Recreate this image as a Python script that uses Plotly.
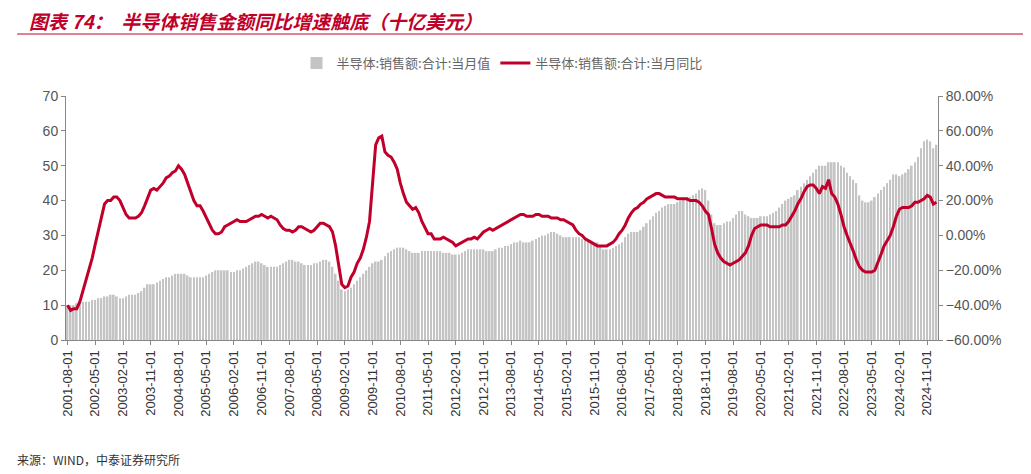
import plotly.graph_objects as go
import pandas as pd

# monthly sales, billion USD (2001-08 .. 2025-02)
sales = [10, 10, 10, 10.5, 11,
         11, 11, 11, 11.5, 11.5, 12, 12, 12.5, 12.5, 13, 13, 12.5,
         12, 12, 12.5, 13, 13, 13, 13.5, 14, 15, 16, 16, 16,
         16.5, 17, 17.5, 18, 18, 18.5, 19, 19, 19, 19, 18.5, 18,
         18, 18, 18, 18, 18.5, 19, 19.5, 20, 20, 20, 20, 20,
         19.5, 19.5, 20, 20, 20.5, 21, 21.5, 22, 22.5, 22.5, 22, 21.5,
         21, 21, 21, 21, 21.5, 22, 22.5, 23, 23, 22.5, 22.5, 22,
         21.5, 21.5, 21.5, 22, 22, 22.5, 23, 23, 22.5, 21, 19, 17,
         14.5, 14, 14.5, 15, 16, 17, 18, 19, 20, 21, 22, 22.5,
         22.5, 23, 24, 25, 25.5, 26, 26.5, 26.5, 26.5, 26, 25.5, 25,
         25, 25, 25.5, 25.5, 25.5, 25.5, 25.5, 25.5, 25.5, 25, 25, 25,
         24.5, 24.5, 24.5, 25, 25.5, 26, 26, 26, 26, 26, 26, 25.5,
         25.5, 25.5, 26, 26.5, 26.5, 27, 27, 27.5, 28, 28, 28.5, 28,
         28, 28, 28.5, 29, 29.5, 30, 30, 30.5, 31, 31, 30.5, 30,
         29.5, 29.5, 29.5, 29.5, 29.5, 29.5, 29, 29, 29, 28.5, 28, 28,
         27, 26, 26, 26, 26.5, 27, 27.5, 28, 29.5, 30.5, 31, 31,
         31, 31.5, 32.5, 33.5, 34.5, 35.5, 36.5, 37, 38, 38.5, 39, 39,
         39, 39.5, 40, 40.5, 41, 41, 41.5, 42, 43, 43.5, 43, 40,
         36, 33.5, 33, 33, 33.5, 34, 34, 35, 36, 37, 37, 36,
         35.5, 35, 35, 35, 35.5, 35.5, 35.5, 36, 36.5, 37, 38, 39,
         40, 40.5, 41, 41.5, 43, 44, 45, 46, 47, 48, 49, 50,
         50, 50, 51, 51, 51, 51, 50, 49.5, 48, 47, 46, 45,
         41.5, 40, 39.5, 39.5, 40, 41, 42, 43, 44, 45, 46, 47.5,
         47.5, 47, 47.5, 48, 49, 50, 51, 52.5, 55, 57, 57.5, 57,
         55, 56]

# year-on-year growth, %
yoy = [-40, -43, -42, -42, -38,
       -32, -25, -20, -13, -5, 3, 10, 18, 20, 20, 22, 22,
       20, 16, 12, 10, 10, 10, 11, 13, 17, 22, 26, 27,
       26, 28, 30, 33, 34, 36, 37, 40, 38, 35, 30, 24,
       20, 17, 17, 14, 10, 6, 3, 1, 1, 2, 5, 6,
       7, 8, 9, 8, 8, 8, 9, 10, 11, 11, 12, 11,
       10, 11, 10, 9, 6, 4, 3, 3, 2, 3, 5, 5,
       4, 3, 2, 3, 5, 7, 7, 6, 5, 2, -6, -17,
       -28, -30, -29, -24, -21, -16, -13, -8, -1, 8, 32, 52,
       56, 57, 48, 46, 45, 42, 38, 30, 24, 19, 17, 15,
       16, 13, 8, 4, 1, 1, -2, -2, -2, -1, -2, -3,
       -4, -6, -5, -4, -3, -2, -2, -1, -2, 0, 2, 3,
       4, 3, 4, 5, 6, 7, 8, 9, 10, 11, 12, 12,
       11, 11, 11, 12, 12, 11, 11, 11, 10, 10, 10, 9,
       9, 8, 7, 6, 3, 1, 0, -2, -3, -4, -5, -6,
       -6, -6, -6, -5, -4, -2, 1, 3, 6, 10, 13, 15,
       16, 18, 19, 21, 22, 23, 24, 24, 23, 22, 22, 22,
       22, 21, 21, 21, 21, 20, 20, 20, 19, 17, 14, 12,
       4, -5, -10, -13, -15, -16, -17, -16, -15, -14, -12, -10,
       -6, 0, 4, 5, 6, 6, 6, 5, 5, 5, 5, 6,
       6, 8, 11, 14, 18, 21, 25, 28, 29, 29, 27, 24,
       28, 27, 32, 24, 22, 18, 12, 5, 0, -4, -9, -14,
       -18, -20, -21, -21, -21, -20, -16, -11, -6, -3, 0, 5,
       11, 15, 16, 16, 16, 17, 19, 19, 20, 21, 23, 22,
       18, 19]

months = pd.date_range("2001-08-01", periods=len(sales), freq="MS").strftime("%Y-%m-%d").tolist()
tick_labels = months[::9]

RED = "#C0002A"
font = "Noto Sans CJK SC"

fig = go.Figure()
fig.add_trace(go.Bar(x=months, y=sales, name="半导体:销售额:合计:当月值",
                     marker_color="#c4c4c4", marker_line_width=0))
fig.add_trace(go.Scatter(x=months, y=yoy, name="半导体:销售额:合计:当月同比", yaxis="y2",
                         mode="lines", line=dict(color=RED, width=3)))

fig.update_layout(
    width=1031, height=474,
    plot_bgcolor="white", paper_bgcolor="white",
    font=dict(family=font, size=13, color="#555"),
    margin=dict(l=58, r=101, t=88, b=142),
    bargap=0.45,
    showlegend=True,
    legend=dict(orientation="h", x=0.5, xanchor="center", y=1.135, yanchor="middle",
                font=dict(size=13, color="#666")),
    xaxis=dict(type="category", tickmode="array", tickvals=tick_labels, ticktext=tick_labels,
               tickangle=-90, showgrid=False, showline=True, linecolor="#888",
               ticks="outside", ticklen=4, tickcolor="#888",
               tickfont=dict(family="Liberation Sans", size=13, color="#333")),
    yaxis=dict(range=[0, 70], dtick=10, showgrid=False, showline=True, linecolor="#888",
               ticks="outside", ticklen=4, tickcolor="#888",
               tickfont=dict(family="Liberation Sans", size=14, color="#555")),
    yaxis2=dict(range=[-60, 80], dtick=20, overlaying="y", side="right", showgrid=False,
                showline=True, linecolor="#888", ticks="outside", ticklen=4, tickcolor="#888",
                ticksuffix=".00%", zeroline=False,
                tickfont=dict(family="Liberation Sans", size=14, color="#555")),
    shapes=[
        dict(type="line", xref="paper", yref="paper", x0=-0.056, x1=1.1, y0=1.369, y1=1.369,
             line=dict(color=RED, width=3)),
        dict(type="line", xref="paper", yref="paper", x0=-0.056, x1=1.1, y0=1.254, y1=1.254,
             line=dict(color=RED, width=1)),
    ],
    annotations=[
        dict(text="<b><i>图表 74：  半导体销售金额同比增速触底（十亿美元）</i></b>", xref="paper", yref="paper",
             x=-0.045, y=1.31, xanchor="left", yanchor="middle", showarrow=False,
             font=dict(size=19, color=RED, family=font)),
        dict(text="来源：WIND，中泰证券研究所", xref="paper", yref="paper",
             x=-0.058, y=-0.49, xanchor="left", yanchor="middle", showarrow=False,
             font=dict(size=12, color="#333", family=font)),
    ],
)

fig.write_html("out.html")
